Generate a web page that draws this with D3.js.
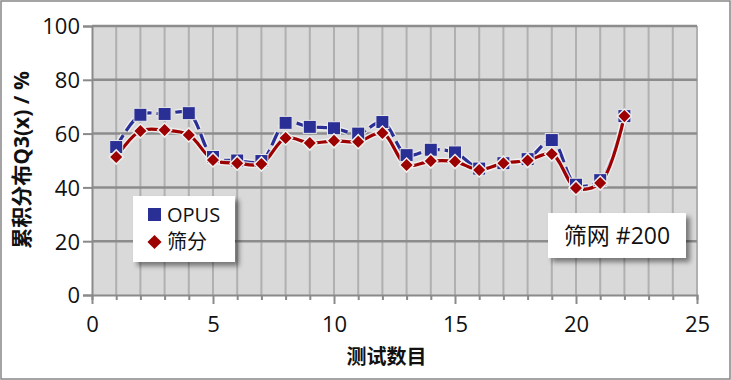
<!DOCTYPE html>
<html>
<head>
<meta charset="utf-8">
<script src="https://d3js.org/d3.v7.min.js"></script>
<style>
  body { margin: 0; background: #fff; }
  text { font-family: "Open Sans", "Noto Sans CJK SC", sans-serif; }
</style>
</head>
<body>
<div id="my_dataviz"></div>
<script>

  // data
  var tests = [1, 2, 3, 4, 5, 6, 7, 8, 9, 10, 11, 12, 13, 14, 15, 16, 17, 18, 19, 20, 21, 22];
  var opus  = [55, 67, 67.3, 67.6, 51.3, 50, 49.8, 64, 62.5, 62, 60, 64.3, 52, 54, 53, 47, 49, 50.5, 57.6, 41, 42.7, 66.5];
  var sieve = [51.3, 61, 61.3, 59.5, 50.2, 49, 48.7, 58.4, 56.5, 57.3, 57, 60.2, 48.3, 49.8, 49.6, 46.5, 49, 50, 52.4, 39.8, 41.6, 66.5];
  var xTicks = [0, 5, 10, 15, 20, 25];
  var yTicks = [0, 20, 40, 60, 80, 100];
  var seriesNames = ["OPUS", "筛分"];
  var note = "筛网 #200";

  var W = 731, H = 380;
  var margin = {top: 26, right: 34, bottom: 85, left: 92},
      width = W - margin.left - margin.right,
      height = H - margin.top - margin.bottom;

  var root = d3.select("#my_dataviz")
    .append("svg")
      .attr("width", W)
      .attr("height", H);

  var defs = root.append("defs");
  var sh = defs.append("filter").attr("id", "shadow")
    .attr("x", "-10%").attr("y", "-10%").attr("width", "130%").attr("height", "140%");
  sh.append("feDropShadow").attr("dx", 4).attr("dy", 4).attr("stdDeviation", 2.5)
    .attr("flood-color", "#000").attr("flood-opacity", 0.45);

  // outer frame
  root.append("rect")
    .attr("x", 1).attr("y", 1).attr("width", W - 2).attr("height", H - 2)
    .attr("fill", "#fff").attr("stroke", "#868686").attr("stroke-width", 1.5);

  var svg = root.append("g")
    .attr("transform", "translate(" + margin.left + "," + margin.top + ")");

  var x = d3.scaleLinear().domain([0, 25]).range([0, width]);
  var y = d3.scaleLinear().domain([0, 100]).range([height, 0]);

  // plot area
  svg.append("rect")
    .attr("width", width).attr("height", height)
    .attr("fill", "#d9d9d9");

  // vertical grid every unit
  svg.selectAll(".vgrid")
    .data(d3.range(1, 26))
    .enter().append("line")
      .attr("x1", function(d) { return x(d); })
      .attr("x2", function(d) { return x(d); })
      .attr("y1", 0).attr("y2", height)
      .attr("stroke", "#b0b0b0").attr("stroke-width", 2);

  // horizontal grid
  svg.selectAll(".hgrid")
    .data(yTicks.slice(1))
    .enter().append("line")
      .attr("x1", 0).attr("x2", width)
      .attr("y1", function(d) { return y(d); })
      .attr("y2", function(d) { return y(d); })
      .attr("stroke", "#8c8c8c").attr("stroke-width", 2.5);

  // X axis
  var xAxis = svg.append("g")
    .attr("transform", "translate(0," + height + ")")
    .call(d3.axisBottom(x).tickValues(d3.range(0, 26)).tickSize(5)
      .tickFormat(function(d) { return xTicks.indexOf(d) >= 0 ? d : ""; }));
  xAxis.selectAll(".tick line")
    .attr("y2", function(d) { return d % 5 === 0 ? 9 : 5; });
  xAxis.selectAll("text").attr("dy", "1.3em").attr("y", 8);

  // Y axis
  var yAxis = svg.append("g")
    .call(d3.axisLeft(y).tickValues(yTicks).tickSize(9));
  yAxis.selectAll("text").attr("x", -12);

  svg.selectAll(".domain, .tick line")
    .attr("stroke", "#8a8a8a").attr("stroke-width", 2);
  svg.selectAll(".tick text")
    .attr("font-size", 22).attr("fill", "#111");
  yAxis.selectAll("text").attr("dy", "0.36em");

  // lines
  var line = d3.line()
    .curve(d3.curveCatmullRom.alpha(0.5))
    .x(function(d, i) { return x(tests[i]); })
    .y(function(d) { return y(d); });

  function drawLine(vals, color, dash) {
    svg.append("path").datum(vals)
      .attr("fill", "none").attr("stroke", "#f2f2f2").attr("stroke-width", 6)
      .attr("stroke-dasharray", dash).attr("opacity", 0.8)
      .attr("d", line);
    svg.append("path").datum(vals)
      .attr("fill", "none").attr("stroke", color).attr("stroke-width", 3.2)
      .attr("stroke-dasharray", dash)
      .attr("d", line);
  }
  drawLine(opus, "#2a2f96", "14,5");
  drawLine(sieve, "#9c0000", null);

  // markers
  svg.selectAll(".sq")
    .data(opus)
    .enter().append("rect")
      .attr("x", function(d, i) { return x(tests[i]) - 6.5; })
      .attr("y", function(d) { return y(d) - 6.5; })
      .attr("width", 13).attr("height", 13)
      .attr("fill", "#2a2f96").attr("stroke", "#e8e8e8").attr("stroke-width", 1);

  svg.selectAll(".dm")
    .data(sieve)
    .enter().append("path")
      .attr("transform", function(d, i) { return "translate(" + x(tests[i]) + "," + y(d) + ") rotate(45)"; })
      .attr("d", d3.symbol().type(d3.symbolSquare).size(100))
      .attr("fill", "#9c0000").attr("stroke", "#eeeeee").attr("stroke-width", 1.5);

  // legend
  var lg = svg.append("g").attr("transform", "translate(41,170)");
  lg.append("rect").attr("width", 102).attr("height", 66)
    .attr("fill", "#fff").attr("filter", "url(#shadow)");
  lg.append("rect").attr("x", 15).attr("y", 12).attr("width", 13).attr("height", 13)
    .attr("fill", "#2a2f96");
  lg.append("text").attr("x", 34).attr("y", 26).attr("font-size", 20)
    .attr("fill", "#111").text(seriesNames[0]);
  lg.append("path").attr("transform", "translate(21.5,46) rotate(45)")
    .attr("d", d3.symbol().type(d3.symbolSquare).size(100))
    .attr("fill", "#9c0000");
  lg.append("text").attr("x", 34).attr("y", 53).attr("font-size", 20)
    .attr("fill", "#111").text(seriesNames[1]);

  // note box
  var nb = svg.append("g").attr("transform", "translate(456,187)");
  nb.append("rect").attr("width", 138).attr("height", 45)
    .attr("fill", "#fff").attr("filter", "url(#shadow)");
  nb.append("text").attr("x", 69).attr("y", 31).attr("text-anchor", "middle")
    .attr("font-size", 23).attr("fill", "#111").text(note);

  // axis titles
  root.append("text")
    .attr("x", margin.left + width / 2 - 8).attr("y", 364)
    .attr("text-anchor", "middle").attr("font-size", 20).attr("font-weight", "bold")
    .attr("fill", "#111").text("测试数目");
  root.append("text")
    .attr("transform", "translate(29,160) rotate(-90)")
    .attr("text-anchor", "middle").attr("font-size", 21).attr("font-weight", "bold")
    .attr("fill", "#111").text("累积分布Q3(x) / %");

</script>
</body>
</html>
